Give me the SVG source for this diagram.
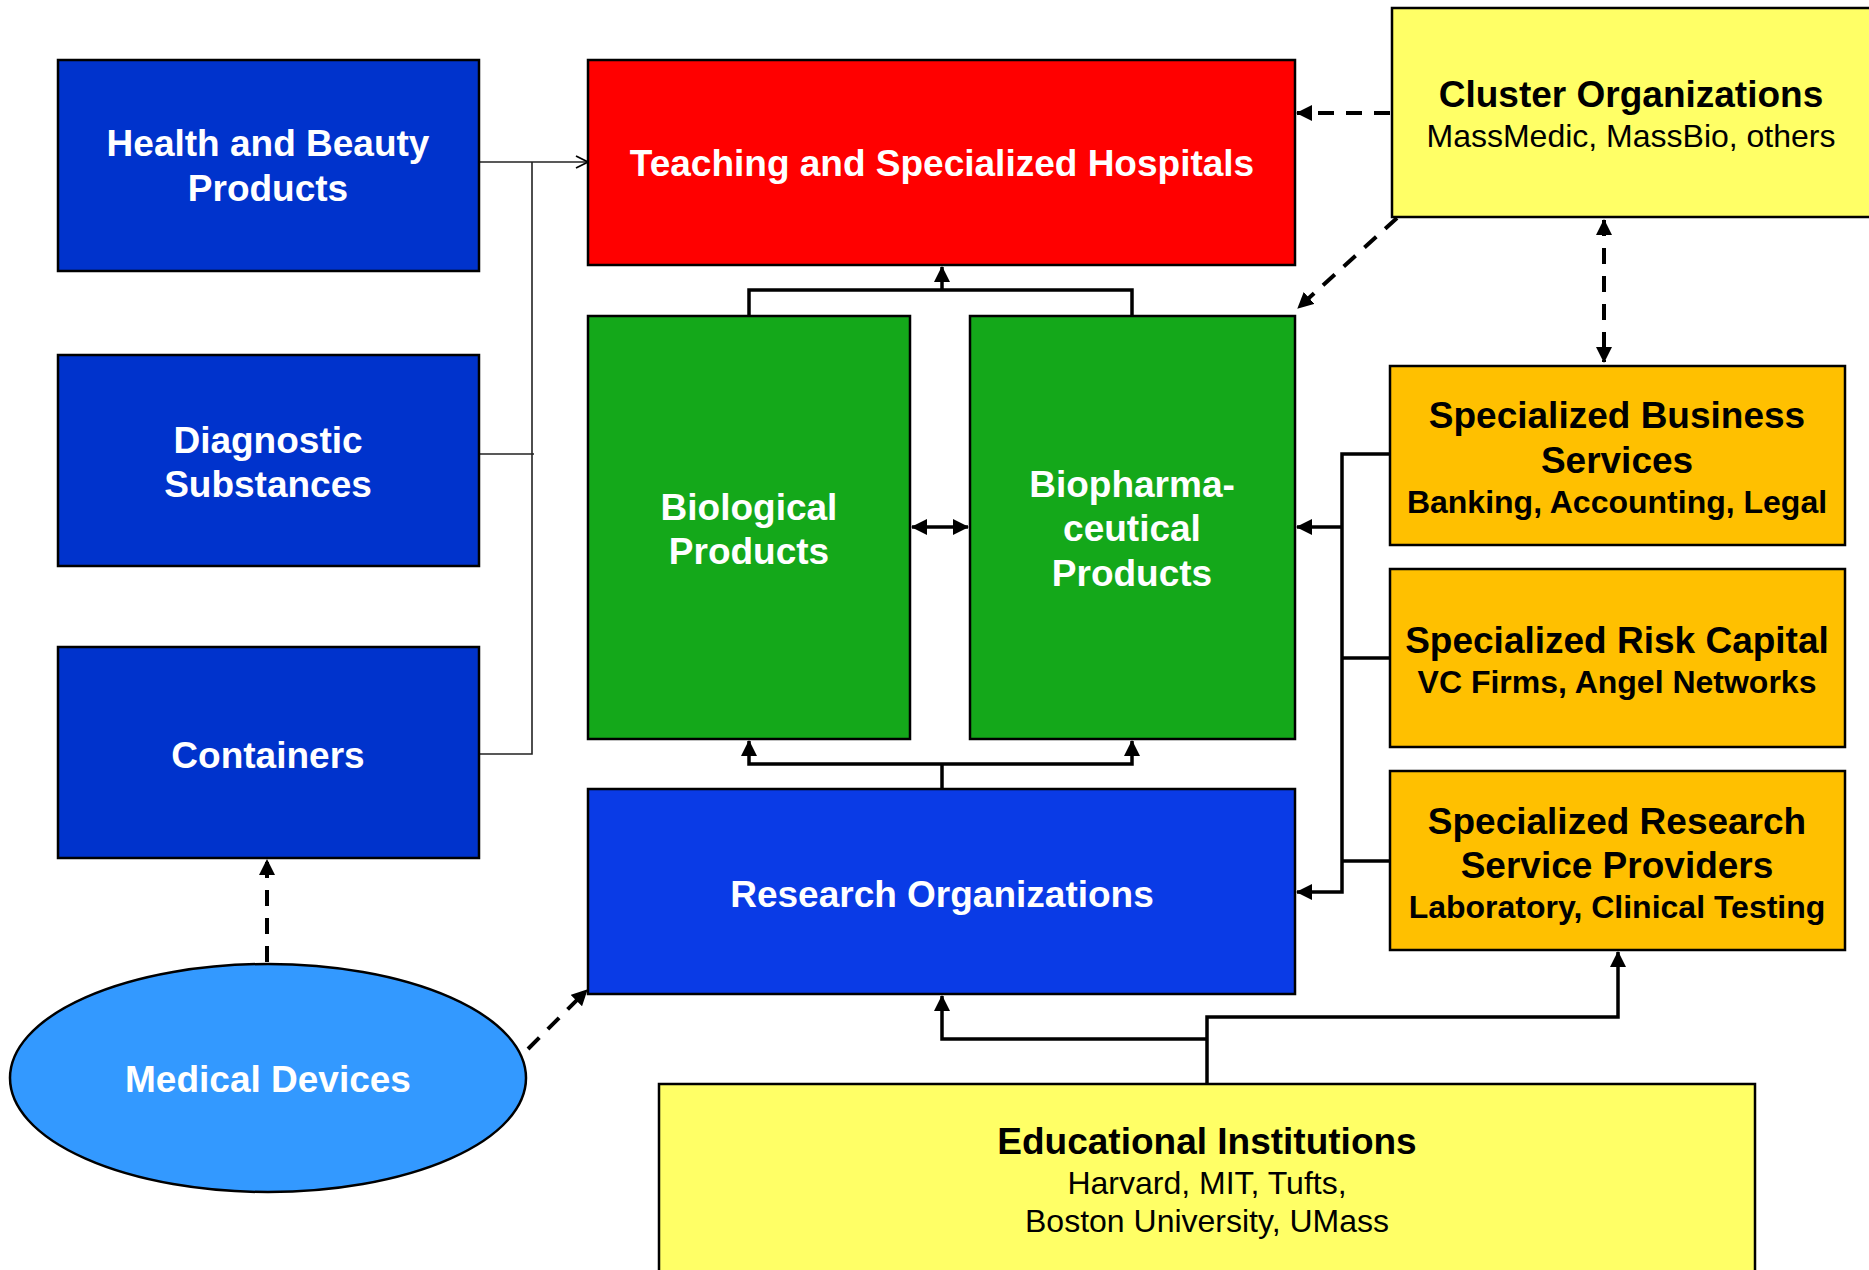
<svg xmlns="http://www.w3.org/2000/svg" width="1869" height="1270" viewBox="0 0 1869 1270">
<defs>
<style>
.box{stroke:#000;stroke-width:2.5}
.blue{fill:#0033CC}
.rblue{fill:#0A3BE6}
.red{fill:#FF0000}
.green{fill:#14A81A}
.yellow{fill:#FFFF66}
.orange{fill:#FFC000}
.sky{fill:#3399FF}
.tw{font-family:"Liberation Sans",Arial,sans-serif;font-weight:bold;font-size:37px;fill:#fff;text-anchor:middle}
.tb{font-family:"Liberation Sans",Arial,sans-serif;font-weight:bold;font-size:37px;fill:#000;text-anchor:middle}
.sb{font-family:"Liberation Sans",Arial,sans-serif;font-weight:bold;font-size:32px;fill:#000;text-anchor:middle}
.sr{font-family:"Liberation Sans",Arial,sans-serif;font-size:32px;fill:#000;text-anchor:middle}
.thin{fill:none;stroke:#222;stroke-width:1.6}
.thick{fill:none;stroke:#000;stroke-width:3.5}
.dash{fill:none;stroke:#000;stroke-width:4;stroke-dasharray:16 12}
</style>
<marker id="arr" viewBox="0 0 16 16" refX="15" refY="8" markerWidth="16" markerHeight="16" markerUnits="userSpaceOnUse" orient="auto-start-reverse">
<path d="M0,0 L16,8 L0,16 Z" fill="#000"/>
</marker>
<marker id="open" viewBox="0 0 14 14" refX="13" refY="7" markerWidth="14" markerHeight="14" markerUnits="userSpaceOnUse" orient="auto">
<path d="M1,1 L13,7 L1,13" fill="none" stroke="#000" stroke-width="1.8"/>
</marker>
</defs>
<rect width="1869" height="1270" fill="#fff"/>

<g id="connectors">
<path class="thin" d="M479,162 H588" marker-end="url(#open)"/>
<path class="thin" d="M532,162 V754 H479"/>
<path class="thin" d="M479,454 H534"/>
<path class="dash" d="M1390,113 H1297" marker-end="url(#arr)"/>
<path class="dash" d="M1397,218 L1298,308" marker-end="url(#arr)"/>
<path class="dash" d="M1604,220 V362" marker-start="url(#arr)" marker-end="url(#arr)"/>
<path class="dash" d="M267,962 V860" marker-end="url(#arr)"/>
<path class="dash" d="M528,1049 L587,990" marker-end="url(#arr)"/>
<path class="thick" d="M749,316 V290 H1132 V316"/>
<path class="thick" d="M942,290 V267" marker-end="url(#arr)"/>
<path class="thick" d="M912,527 H968" marker-start="url(#arr)" marker-end="url(#arr)"/>
<path class="thick" d="M942,789 V764"/>
<path class="thick" d="M749,741 V764 H1132 V741" marker-start="url(#arr)" marker-end="url(#arr)"/>
<path class="thick" d="M1390,454 H1342 V892 H1297" marker-end="url(#arr)"/>
<path class="thick" d="M1390,658 H1342"/>
<path class="thick" d="M1390,861 H1342"/>
<path class="thick" d="M1342,527 H1297" marker-end="url(#arr)"/>
<path class="thick" d="M1207,1084 V1017 H1618 V952" marker-end="url(#arr)"/>
<path class="thick" d="M1207,1039 H942 V996" marker-end="url(#arr)"/>
</g>

<g id="health">
<rect class="box blue" x="58" y="60" width="421" height="211"/>
<text class="tw" x="268" y="156">Health and Beauty</text>
<text class="tw" x="268" y="201">Products</text>
</g>
<g id="diagnostic">
<rect class="box blue" x="58" y="355" width="421" height="211"/>
<text class="tw" x="268" y="453">Diagnostic</text>
<text class="tw" x="268" y="497">Substances</text>
</g>
<g id="containers">
<rect class="box blue" x="58" y="647" width="421" height="211"/>
<text class="tw" x="268" y="768">Containers</text>
</g>
<g id="medical">
<ellipse class="box sky" cx="268" cy="1078" rx="258" ry="114"/>
<text class="tw" x="268" y="1092">Medical Devices</text>
</g>
<g id="hospitals">
<rect class="box red" x="588" y="60" width="707" height="205"/>
<text class="tw" x="942" y="176">Teaching and Specialized Hospitals</text>
</g>
<g id="biological">
<rect class="box green" x="588" y="316" width="322" height="423"/>
<text class="tw" x="749" y="520">Biological</text>
<text class="tw" x="749" y="564">Products</text>
</g>
<g id="biopharma">
<rect class="box green" x="970" y="316" width="325" height="423"/>
<text class="tw" x="1132" y="497">Biopharma-</text>
<text class="tw" x="1132" y="541">ceutical</text>
<text class="tw" x="1132" y="586">Products</text>
</g>
<g id="research">
<rect class="box rblue" x="588" y="789" width="707" height="205"/>
<text class="tw" x="942" y="907">Research Organizations</text>
</g>
<g id="cluster">
<rect class="box yellow" x="1392" y="8" width="490" height="209"/>
<text class="tb" x="1631" y="107">Cluster Organizations</text>
<text class="sr" x="1631" y="147">MassMedic, MassBio, others</text>
</g>
<g id="business">
<rect class="box orange" x="1390" y="366" width="455" height="179"/>
<text class="tb" x="1617" y="428">Specialized Business</text>
<text class="tb" x="1617" y="473">Services</text>
<text class="sb" x="1617" y="513">Banking, Accounting, Legal</text>
</g>
<g id="riskcapital">
<rect class="box orange" x="1390" y="569" width="455" height="178"/>
<text class="tb" x="1617" y="653">Specialized Risk Capital</text>
<text class="sb" x="1617" y="693">VC Firms, Angel Networks</text>
</g>
<g id="researchservices">
<rect class="box orange" x="1390" y="771" width="455" height="179"/>
<text class="tb" x="1617" y="834">Specialized Research</text>
<text class="tb" x="1617" y="878">Service Providers</text>
<text class="sb" x="1617" y="918">Laboratory, Clinical Testing</text>
</g>
<g id="educational">
<rect class="box yellow" x="659" y="1084" width="1096" height="200"/>
<text class="tb" x="1207" y="1154">Educational Institutions</text>
<text class="sr" x="1207" y="1194">Harvard, MIT, Tufts,</text>
<text class="sr" x="1207" y="1232">Boston University, UMass</text>
</g>
</svg>
